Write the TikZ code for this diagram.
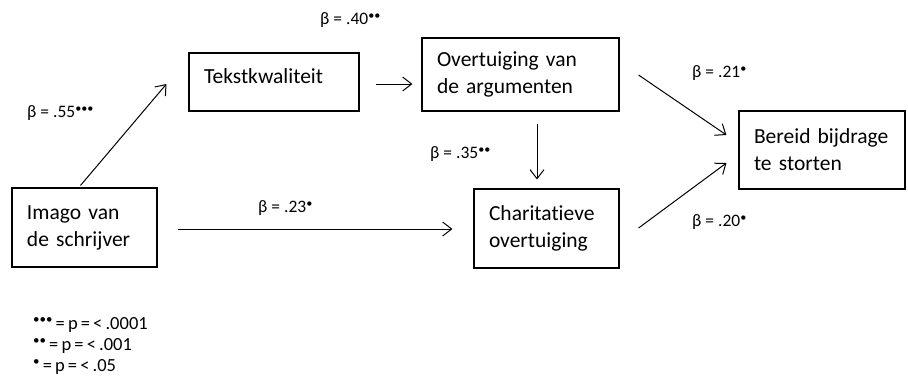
\documentclass[tikz,border=0pt]{standalone}
\usepackage{fontspec}
\setmainfont{Carlito}[Ligatures=NoCommon]
\newfontfamily\boxfont{Carlito}[Ligatures=NoCommon,WordSpace={0.45,0,0}]
\newfontfamily\legfont{Carlito}[Ligatures=NoCommon,WordSpace=0.75]
\usetikzlibrary{arrows.meta,calc}

\def\sig#1{\raisebox{.3em}{\scalebox{.7}{#1}}}

\begin{document}
\begin{tikzpicture}[x=1pt,y=-1pt,
  >={Straight Barb[length=9pt,width=14pt]},
  box/.style={draw,line width=1.1pt,align=left,inner xsep=15pt,
    font=\boxfont\fontsize{21.5}{27}\selectfont,anchor=center},
  lbl/.style={anchor=west,inner sep=0pt,font=\fontsize{17.5}{20}\selectfont},
  leg/.style={anchor=west,inner sep=0pt,font=\legfont\fontsize{18.5}{20}\selectfont}]
\useasboundingbox (0,0) rectangle (908,376);

% boxes
\node [box, minimum width=170pt, minimum height=58pt, text width=140pt, text depth=12pt] (tekst) at (274,82) {Tekstkwaliteit};
\node [box, minimum width=197pt, minimum height=73pt, text width=167pt] (overt) at (520.5,74.5) {Overtuiging van\\de argumenten};
\node [box, minimum width=166pt, minimum height=78pt, text width=136pt] (bereid) at (822,150) {Bereid bijdrage\\te storten};
\node [box, minimum width=145pt, minimum height=79pt, text width=115pt] (imago) at (84.5,227.5) {Imago van\\de schrijver};
\node [box, minimum width=145pt, minimum height=79pt, text width=115pt] (charit) at (546.5,228.5) {Charitatieve\\overtuiging};

% paths
\draw [->, line width=1pt] ($(imago.north)+(-4,-2)$)--($(tekst.west)+(-22,2)$);
\draw [->, line width=1pt] ($(tekst.east)+(16,2)$)--($(overt.west)+(-9,9.5)$);
\draw [->, line width=1pt] ($(overt.south)+(16.5,12)$)--($(charit.north)+(-9.5,-9)$);
\draw [->, line width=1pt] ($(imago.east)+(20,1.5)$)--($(charit.west)+(-21,0.5)$);
\draw [->, line width=1pt] ($(overt.east)+(19,0.5)$)--($(bereid.west)+(-12,-15)$);
\draw [->, line width=1pt] ($(charit.east)+(19,-0.5)$)--($(bereid.west)+(-12,13)$);

% coefficients
\node [lbl] (b40) at (320,20) {β = .40\sig{••}};
\node [lbl] (b55) at (27,113) {β = .55\sig{•••}};
\node [lbl] (b35) at (430,154) {β = .35\sig{••}};
\node [lbl] (b21) at (692,73) {β = .21\sig{•}};
\node [lbl] (b23) at (258,208) {β = .23\sig{•}};
\node [lbl] (b20) at (692,222) {β = .20\sig{•}};

% legend
\node [leg] (p3) at (33,325) {\sig{•••} = p = < .0001};
\node [leg] (p2) at (33,346) {\sig{••} = p = < .001};
\node [leg] (p1) at (33,367) {\sig{•} = p = < .05};

\end{tikzpicture}
\end{document}
